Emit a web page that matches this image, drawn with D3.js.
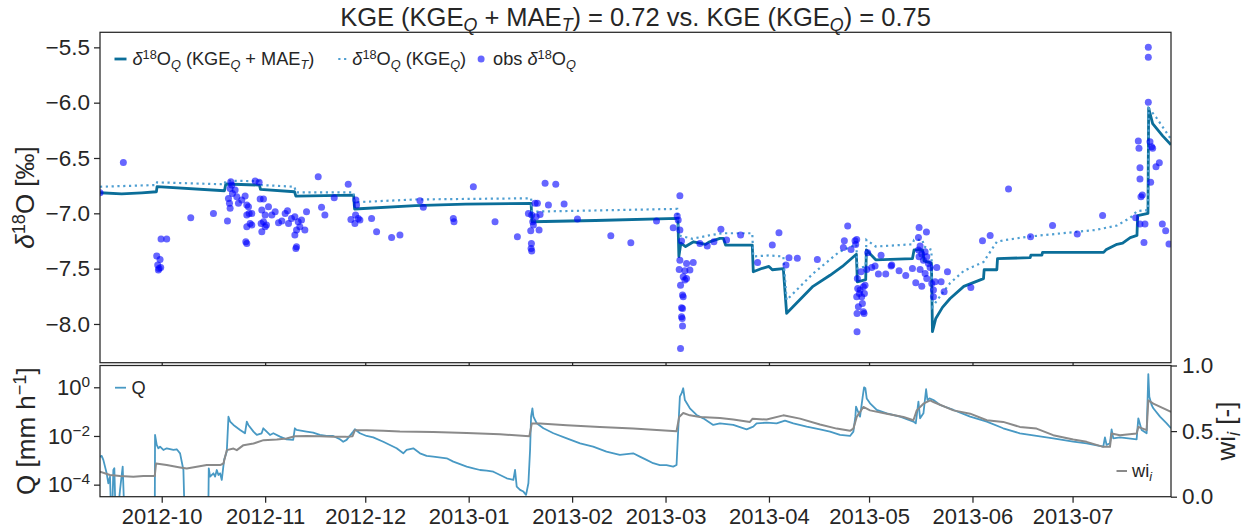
<!DOCTYPE html>
<html><head><meta charset="utf-8">
<script src="https://cdn.jsdelivr.net/npm/d3@7"></script>
<style>
body{margin:0;background:#fff}
text{font-family:"Liberation Sans",Arial,Helvetica,sans-serif;fill:#262626}
</style>
</head><body>
<svg id="chart" width="1248" height="531"></svg>
<script>
// ---------------- DATA ----------------
// x values are days since 2012-09-01 00:00 UTC
const baseDate = "2012-09-01";
const xLimitsDays = [11.5, 332.5];
const d18Ticks = [-8.0, -7.5, -7.0, -6.5, -6.0, -5.5];
const d18Limits = [-8.35, -5.364];
const qTicks = [1e-4, 1e-2, 1];
const qLimits = [3.2e-5, 7.85];
const wiTicks = [0, 0.5, 1.0];
const wiLimits = [0, 1];

const titleParts = [["KGE (KGE","n"],["Q","subi"],[" + MAE","n"],["T","subi"],[") = 0.72 vs. KGE (KGE","n"],["Q","subi"],[") = 0.75","n"]];

// simulated d18O, KGE_Q + MAE_T (solid)
const simCombined = [[11.5,-6.814],[18,-6.825],[24,-6.815],[28.4,-6.805],[28.6,-6.759],[48.8,-6.796],[49.2,-6.735],[59.3,-6.745],[59.6,-6.783],[69.8,-6.805],[70.2,-6.844],[87.5,-6.835],[87.8,-6.961],[106,-6.93],[121,-6.916],[140.7,-6.91],[141,-7.076],[160,-7.065],[184.7,-7.045],[185,-7.39],[185.6,-7.27],[187,-7.30],[189.4,-7.257],[193,-7.28],[194,-7.26],[197.3,-7.226],[198.3,-7.226],[199,-7.287],[207,-7.287],[207.3,-7.528],[210,-7.497],[212,-7.48],[213,-7.51],[216.3,-7.50],[217.3,-7.904],[225.2,-7.66],[230.3,-7.56],[234,-7.48],[238.2,-7.37],[238.5,-7.62],[241,-7.60],[241.2,-7.33],[244,-7.42],[255,-7.41],[255.5,-7.33],[258,-7.33],[258.5,-7.43],[260.7,-7.45],[261,-8.07],[262,-7.95],[264,-7.85],[266.3,-7.77],[270.4,-7.66],[276.3,-7.59],[276.5,-7.51],[280.3,-7.51],[280.5,-7.41],[290.3,-7.40],[290.5,-7.377],[293.8,-7.377],[294,-7.353],[312.3,-7.353],[313,-7.33],[316.3,-7.28],[318,-7.27],[320.3,-7.22],[322.3,-7.20],[322.5,-7.02],[325.6,-7.00],[325.8,-6.05],[327,-6.19],[330,-6.30],[332.5,-6.38]];

// simulated d18O, KGE_Q (dotted)
const simKge = [[11.5,-6.76],[28.4,-6.744],[28.6,-6.72],[48.8,-6.738],[49.2,-6.705],[59.3,-6.71],[59.6,-6.744],[69.8,-6.76],[70.2,-6.81],[87.5,-6.81],[87.8,-6.90],[106,-6.875],[121,-6.87],[140.7,-6.864],[141,-6.985],[184.5,-6.96],[185,-7.20],[189,-7.23],[194,-7.20],[198,-7.18],[207,-7.18],[207.3,-7.39],[212,-7.38],[216.3,-7.39],[217.3,-7.784],[225,-7.55],[233,-7.35],[238.2,-7.28],[238.5,-7.50],[241,-7.48],[241.2,-7.24],[244,-7.30],[255,-7.28],[255.5,-7.24],[258,-7.24],[258.5,-7.30],[260.7,-7.33],[261,-7.845],[264,-7.72],[266.3,-7.63],[270.4,-7.52],[276.3,-7.44],[280.3,-7.257],[283,-7.24],[290,-7.21],[300,-7.18],[310,-7.15],[316.3,-7.11],[320.3,-7.04],[322.3,-6.98],[325.6,-6.97],[325.8,-6.05],[328,-6.13],[332.5,-6.33]];

// observed d18O
const obs = [[11.5,-6.814],[18.5,-6.540],[28.5,-7.386],[29.5,-7.417],[28.8,-7.468],[29.2,-7.498],[29.7,-7.489],[29.0,-7.513],[29.8,-7.233],[31.5,-7.233],[38.7,-7.040],[45.5,-7.001],[49.7,-7.070],
[50.7,-6.714],[51.0,-6.744],[50.5,-6.775],[51.2,-6.820],[50.0,-6.865],[50.3,-6.910],[50.5,-6.955],[52.0,-6.790],[52.5,-6.850],[53.0,-6.910],[54.0,-6.880],[55.0,-6.844],[55.5,-6.925],[56.0,-6.940],[56.2,-7.001],[55.5,-7.016],[57.0,-7.001],[56.5,-7.091],[55.5,-7.121],[55.2,-7.257],[55.5,-7.272],[57.0,-7.106],[58.0,-6.708],[59.2,-6.720],[59.5,-6.871],[60.5,-6.871],[60.0,-6.970],[61.0,-7.016],[60.5,-7.076],[61.0,-7.121],[60.0,-7.166],[61.4,-7.106],[62.0,-6.940],[64.0,-6.986],[63.0,-7.016],[59.8,-7.091],
[65.0,-7.085],[66.0,-7.070],[67.0,-7.001],[67.7,-6.976],[68.0,-7.091],[68.9,-7.046],[69.9,-7.031],[70.9,-7.076],[70.4,-7.151],[71.4,-7.121],[71.9,-7.061],[73.4,-6.986],[72.9,-7.151],[69.9,-7.196],[70.4,-7.302],[70.2,-7.317],
[76.9,-6.669],[77.9,-6.946],[78.9,-7.016],[81.7,-6.859],[85.9,-6.738],[88.2,-6.880],[88.4,-6.925],[88.1,-7.016],[88.9,-7.046],[86.7,-7.055],[87.9,-7.091],[89.4,-7.061],[92.9,-7.046],[94.4,-7.166],[98.9,-7.218],[101.4,-7.196],[107.4,-6.886],[108.4,-6.946],[117.4,-7.046],[117.6,-7.076],
[123.4,-6.760],[129.9,-7.076],[136.6,-7.212],[139.9,-7.001],[140.9,-7.016],[141.2,-7.076],[141.9,-6.910],[142.6,-6.910],[142.2,-7.031],[141.4,-7.106],[140.6,-7.157],[143.1,-7.151],[143.4,-7.010],[140.8,-7.272],[140.7,-7.317],[140.9,-7.341],[144.9,-6.729],[148.1,-6.738],[145.9,-6.925],[150.6,-6.916],[154.6,-7.052],[164.6,-7.203],[170.6,-7.266],[178.3,-7.070],
[185.3,-6.841],[184.5,-7.025],[183.3,-7.130],[185.3,-7.151],[184.8,-7.061],[185.8,-7.251],[185.3,-7.423],[187.3,-7.453],[189.3,-7.444],[185.1,-7.507],[188.3,-7.513],[186.8,-7.519],[186.3,-7.573],[187.3,-7.588],[186.8,-7.603],[185.5,-7.649],[186.1,-7.739],[186.3,-7.754],[185.8,-7.854],[186.1,-7.860],[185.8,-7.935],[186.0,-7.950],[186.1,-8.019],[185.5,-8.221],
[191.3,-7.272],[193.5,-7.296],[195.5,-7.257],[197.6,-7.145],[199.3,-7.242],[203.5,-7.196],[208.6,-7.444],[213.0,-7.287],[215.0,-7.175],[217.1,-7.468],[218.0,-7.401],[220.5,-7.407],[226.5,-7.417],
[235.6,-7.115],[234.6,-7.248],[234.3,-7.308],[236.6,-7.326],[237.8,-7.248],[238.3,-7.236],[238.0,-7.281],[239.6,-7.528],[238.5,-7.588],[238.6,-7.679],[239.3,-7.694],[240.3,-7.664],[240.8,-7.649],[238.3,-7.754],[239.8,-7.754],[240.0,-7.814],[238.8,-7.845],[240.3,-7.890],[238.4,-7.905],[240.5,-7.905],[238.4,-8.071],[239.1,-7.724],[240.6,-7.724],
[241.6,-7.356],[242.8,-7.489],[241.3,-7.507],[243.8,-7.477],[244.8,-7.549],[245.6,-7.380],[247.0,-7.549],[248.6,-7.477],[248.8,-7.468],[251.0,-7.519],[253.0,-7.561],[255.0,-7.498],
[257.0,-7.127],[259.2,-7.169],[256.8,-7.218],[257.3,-7.296],[256.8,-7.332],[257.8,-7.368],[258.8,-7.347],[257.0,-7.392],[259.3,-7.392],[258.3,-7.423],[259.8,-7.453],[260.3,-7.489],[257.3,-7.507],[258.8,-7.543],[256.0,-7.628],[257.8,-7.658],[259.3,-7.588],[260.8,-7.634],[261.8,-7.619],[261.3,-7.694],[262.3,-7.489],[261.3,-7.754],[263.6,-7.619],[264.5,-7.709],[265.5,-7.528],
[272.5,-7.670],[276.0,-7.248],[278.3,-7.200],[283.8,-6.781],[290.4,-7.212],[297.0,-7.109],[304.4,-7.187],[312.0,-7.019],
[325.7,-5.500],[325.7,-5.590],[325.7,-5.997],[322.7,-6.347],[322.9,-6.413],[326.2,-6.353],[326.7,-6.398],[327.0,-6.413],[323.2,-6.588],[323.2,-6.690],[323.5,-6.850],[323.9,-6.835],[326.4,-6.720],[328.0,-6.579],[329.0,-6.543],[321.9,-7.040],[323.2,-7.097],[324.7,-7.097],[324.4,-7.263],[329.9,-7.097],[330.9,-7.157],[331.9,-7.278]];

// discharge Q [mm/h] (1e-6 = below axis)
const discharge = [[11.5,1.42e-3],[12.0,1.51e-3],[12.5,1.04e-3],[13.5,2.93e-4],[14.0,1.14e-4],[14.5,2.14e-4],[15.0,1e-6],[15.5,4.0e-4],[15.8,4.7e-4],[16.3,1e-6],[17.5,6.1e-5],[18.3,5.5e-4],[19.0,1e-6],[27.9,1e-6],
[28.0,1.10e-2],[28.5,4.28e-3],[29.0,3.12e-3],[29.5,3.65e-3],[30.5,2.66e-3],[31.5,3.12e-3],[33.5,2.66e-3],[34.5,2.84e-3],[35.5,1.94e-3],[36.5,4.0e-4],[37.0,1e-6],[43.9,1e-6],
[44.1,4.7e-4],[44.5,2.14e-4],[45.5,2.93e-4],[46.0,2.14e-4],[46.5,4.0e-4],[47.0,2.5e-4],[47.5,2.93e-4],[48.0,1.56e-4],[48.7,1.04e-3],[49.5,2.28e-3],[50.0,6.2e-2],[50.5,3.9e-2],[51.5,2.83e-2],[53.5,1.77e-2],[54.96,1.29e-2],[55.5,3.9e-2],[55.96,2.83e-2],[57.5,1.51e-2],[58.5,1.10e-2],[59.95,1.29e-2],[60.45,2.07e-2],[61.45,1.51e-2],[62.45,1.10e-2],[63.45,1.29e-2],[65.45,9.4e-3],[67.4,7.3e-3],[69.4,6.9e-3],[69.9,2.07e-2],[70.4,1.77e-2],[73.4,1.51e-2],[75.4,1.37e-2],[77.4,1.10e-2],[79.4,1.0e-2],[81.4,1.0e-2],[83.4,7.3e-3],[84.4,5.8e-3],[85.4,6.9e-3],[87.4,1.51e-2],[87.9,1.88e-2],[89.4,1.29e-2],[91.4,1.0e-2],[93.4,8.8e-3],[96.4,5.8e-3],[98.4,4.28e-3],[100.4,3.12e-3],[102.4,1.94e-3],[103.4,2.66e-3],[105.4,3.12e-3],[107.4,1.94e-3],[109.4,1.51e-3],[111.4,1.42e-3],[115.4,1.21e-3],[117.4,8.8e-4],[121.4,5.5e-4],[123.4,4.7e-4],[125.4,4.0e-4],[127.4,3.8e-4],[129.4,3.4e-4],[131.4,2.5e-4],[133.4,1.83e-4],[135.4,1.56e-4],[135.9,4.0e-4],[136.4,8.3e-5],[137.4,6.1e-5],[138.4,5.2e-5],[139.2,3.8e-5],[139.9,1.14e-4],[140.4,2.66e-3],[140.7,6.2e-2],[141.1,0.137],[141.4,6.2e-2],[142.4,3.3e-2],[144.4,2.07e-2],[147.4,1.29e-2],[151.4,8.0e-3],[155.4,5.0e-3],[159.3,3.65e-3],[163.3,2.28e-3],[167.3,1.66e-3],[171.3,1.94e-3],[173.3,1.42e-3],[175.3,1.04e-3],[177.3,7.6e-4],[179.3,6.4e-4],[181.3,6.4e-4],[183.3,5.5e-4],[184.3,6.4e-4],[184.8,1.77e-2],[185.3,0.41],[185.8,0.56],[186.3,0.91],[186.8,0.30],[188.3,0.137],[190.3,7.3e-2],[192.3,5.3e-2],[195.3,2.83e-2],[197.3,3.3e-2],[201.3,2.83e-2],[205.3,1.88e-2],[207.3,2.41e-2],[208.3,3.3e-2],[211.3,3.5e-2],[214.3,3.3e-2],[216.8,4.3e-2],[219.3,3.3e-2],[223.3,2.41e-2],[227.3,1.88e-2],[230.3,1.51e-2],[233.3,1.10e-2],[236.3,1.0e-2],[237.3,1.51e-2],[237.9,6.2e-2],[238.1,0.16],[238.5,0.117],[239.3,6.2e-2],[240.1,0.41],[240.5,1.0],[240.9,0.91],[241.3,0.35],[242.3,0.22],[244.3,0.117],[247.3,8.5e-2],[251.3,6.2e-2],[255.3,3.9e-2],[256.0,3.3e-2],[256.8,0.257],[257.3,5.3e-2],[258.3,8.5e-2],[259.1,0.83],[259.5,0.30],[260.1,0.35],[261.3,0.30],[263.3,0.187],[267.3,0.117],[272.3,6.2e-2],[277.3,3.9e-2],[282.2,2.07e-2],[287.2,1.29e-2],[292.2,1.0e-2],[297.2,8.0e-3],[303.2,5.8e-3],[307.2,5.0e-3],[312.2,3.65e-3],[312.7,8.8e-3],[313.2,4.28e-3],[314.2,5.0e-3],[314.7,1.88e-2],[315.2,8.0e-3],[317.2,8.8e-3],[322.2,7.3e-3],[322.7,5.3e-2],[323.7,1.77e-2],[325.2,1.29e-2],[325.7,3.5],[326.0,0.41],[326.7,0.187],[327.2,0.137],[329.2,6.2e-2],[331.2,3.3e-2],[332.5,2.07e-2]];

// wi_i [-]
const wi = [[11.5,0.190],[14.5,0.165],[17.5,0.157],[21.5,0.152],[24.5,0.157],[27.9,0.157],[28.3,0.253],[31.5,0.241],[35.5,0.223],[37.5,0.215],[40.5,0.228],[43.5,0.241],[47.5,0.241],[48.5,0.253],[49.5,0.355],[51.5,0.367],[52.5,0.355],[54.5,0.393],[57.5,0.405],[60.5,0.431],[64.5,0.436],[67.4,0.443],[69.9,0.461],[73.4,0.463],[77.4,0.461],[81.4,0.456],[85.4,0.456],[87.2,0.461],[87.9,0.507],[91.4,0.507],[96.4,0.502],[101.4,0.497],[111.4,0.494],[121.4,0.486],[131.4,0.476],[140.2,0.461],[140.9,0.557],[143.4,0.557],[151.4,0.545],[161.3,0.532],[171.3,0.519],[184.3,0.499],[185.1,0.608],[186.3,0.638],[188.3,0.620],[191.3,0.608],[197.3,0.600],[201.3,0.588],[206.3,0.570],[207.1,0.595],[211.3,0.588],[216.3,0.620],[221.3,0.595],[227.3,0.550],[232.3,0.519],[236.3,0.502],[237.3,0.519],[238.3,0.608],[240.3,0.684],[242.3,0.658],[247.3,0.633],[252.3,0.608],[255.3,0.583],[256.3,0.658],[258.3,0.709],[260.3,0.734],[261.3,0.722],[267.3,0.658],[272.3,0.633],[277.3,0.583],[282.2,0.570],[287.2,0.532],[292.2,0.519],[297.2,0.469],[303.2,0.436],[307.2,0.418],[312.2,0.380],[314.2,0.380],[314.7,0.481],[317.2,0.469],[322.2,0.481],[322.7,0.532],[325.2,0.507],[325.7,0.734],[327.2,0.709],[332.5,0.646]];

// ---------------- DRAW ----------------
const svg = d3.select("#chart");
const L = 100, R = 1171, T1 = 32.3, B1 = 362.7, T2 = 365.5, B2 = 496.7;
const INK = "#262626";
const base = Date.parse(baseDate + "T00:00:00Z");
const toDate = d => new Date(base + d * 864e5);

const x = d3.scaleUtc().domain(xLimitsDays.map(toDate)).range([L, R]);
const y1 = d3.scaleLinear().domain(d18Limits).range([B1, T1]);
const yq = d3.scaleLog().domain(qLimits).range([B2, T2]);
const yw = d3.scaleLinear().domain(wiLimits).range([B2, T2]);

function rich(sel, segs, fs) {
  let shift = 0;
  segs.forEach(([t, k]) => {
    let target = 0, size = fs, it = false;
    if (k === "sub" || k === "subi") { target = 0.2 * fs; size = 0.7 * fs; }
    if (k === "sup") { target = -0.36 * fs; size = 0.7 * fs; }
    if (k === "subi" || k === "i") it = true;
    const ts = sel.append("tspan").text(t).style("font-size", size + "px");
    if (it) ts.style("font-style", "italic");
    if (target - shift !== 0) ts.attr("dy", (target - shift).toFixed(2));
    shift = target;
  });
}

const defs = svg.append("defs");
defs.append("clipPath").attr("id", "clip1").append("rect").attr("x", L).attr("y", T1).attr("width", R - L).attr("height", B1 - T1);
defs.append("clipPath").attr("id", "clip2").append("rect").attr("x", L).attr("y", T2).attr("width", R - L).attr("height", B2 - T2);

function styleAxis(g, fs) {
  g.attr("font-family", null).attr("font-size", null);
  g.select(".domain").remove();
  g.selectAll(".tick line").attr("stroke", INK).attr("stroke-width", 1.25);
  g.selectAll(".tick text").style("font-size", fs + "px").attr("fill", INK);
}

// ---- top panel ----
const g1 = svg.append("g");
const lineTop = d3.line().x(d => x(toDate(d[0]))).y(d => y1(d[1]));
const p1 = g1.append("g").attr("clip-path", "url(#clip1)");
p1.append("path").datum(simCombined).attr("d", lineTop).attr("fill", "none")
  .attr("stroke", "#0b6e99").attr("stroke-width", 2.8).attr("stroke-linejoin", "round");
p1.append("path").datum(simKge).attr("d", lineTop).attr("fill", "none")
  .attr("stroke", "#4f9fd2").attr("stroke-width", 2.2).attr("stroke-dasharray", "2.2,3.6");
p1.selectAll("circle").data(obs).join("circle")
  .attr("cx", d => x(toDate(d[0]))).attr("cy", d => y1(d[1])).attr("r", 3.5)
  .attr("fill", "#0000ff").attr("fill-opacity", 0.6);

g1.append("g").attr("transform", `translate(${L},0)`)
  .call(d3.axisLeft(y1).tickValues(d18Ticks).tickSize(6).tickPadding(4).tickFormat(d3.format(".1f")))
  .call(g => styleAxis(g, 22.5));
g1.append("g").attr("transform", `translate(0,${B1})`)
  .call(d3.axisBottom(x).ticks(d3.utcMonth.every(1)).tickSize(3).tickFormat(""))
  .call(g => styleAxis(g, 22));
g1.append("rect").attr("x", L).attr("y", T1).attr("width", R - L).attr("height", B1 - T1)
  .attr("fill", "none").attr("stroke", INK).attr("stroke-width", 1.25);

// ---- bottom panel ----
const g2 = svg.append("g");
const p2 = g2.append("g").attr("clip-path", "url(#clip2)");
p2.append("path").datum(discharge)
  .attr("d", d3.line().x(d => x(toDate(d[0]))).y(d => yq(d[1])))
  .attr("fill", "none").attr("stroke", "#4899c4").attr("stroke-width", 1.8).attr("stroke-linejoin", "round");
p2.append("path").datum(wi)
  .attr("d", d3.line().x(d => x(toDate(d[0]))).y(d => yw(d[1])))
  .attr("fill", "none").attr("stroke", "#8a8a8a").attr("stroke-width", 2).attr("stroke-linejoin", "round");

const qAxis = g2.append("g").attr("transform", `translate(${L},0)`)
  .call(d3.axisLeft(yq).tickValues(qTicks).tickSize(6).tickPadding(4).tickFormat(() => ""))
  .call(g => styleAxis(g, 22));
qAxis.selectAll(".tick text").each(function(d) {
  const e = Math.round(Math.log10(d));
  rich(d3.select(this), [["10", "n"], [(e < 0 ? "\u2212" : "") + Math.abs(e), "sup"]], 22);
});
g2.append("g").attr("transform", `translate(${R},0)`)
  .call(d3.axisRight(yw).tickValues(wiTicks).tickSize(6).tickPadding(5).tickFormat(d3.format(".1f")))
  .call(g => styleAxis(g, 22.5));
g2.append("g").attr("transform", `translate(0,${B2})`)
  .call(d3.axisBottom(x).ticks(d3.utcMonth.every(1)).tickSize(6).tickPadding(6).tickFormat(d3.utcFormat("%Y-%m")))
  .call(g => styleAxis(g, 22));
g2.append("rect").attr("x", L).attr("y", T2).attr("width", R - L).attr("height", B2 - T2)
  .attr("fill", "none").attr("stroke", INK).attr("stroke-width", 1.25);

// ---- titles and labels ----
const title = svg.append("text").attr("x", (L + R) / 2).attr("y", 26).attr("text-anchor", "middle");
rich(title, titleParts, 25.5);

const yl1 = svg.append("text").attr("transform", `translate(34,${(T1 + B1) / 2}) rotate(-90)`).attr("text-anchor", "middle");
rich(yl1, [["\u03b4", "i"], ["18", "sup"], ["O [\u2030]", "n"]], 26);
const yl2 = svg.append("text").attr("transform", `translate(35,${(T2 + B2) / 2}) rotate(-90)`).attr("text-anchor", "middle");
rich(yl2, [["Q [mm h", "n"], ["\u22121", "sup"], ["]", "n"]], 26);
const yl3 = svg.append("text").attr("transform", `translate(1235,${(T2 + B2) / 2}) rotate(-90)`).attr("text-anchor", "middle");
rich(yl3, [["wi", "n"], ["i", "subi"], [" [-]", "n"]], 26);

// ---- legends ----
const LF = 18.2;
const legY = 59;
let cx = 114.5;
const leg = svg.append("g");
function legText(xp, yc, segs) {
  const t = leg.append("text").attr("x", xp).attr("y", yc + 0.35 * LF);
  rich(t, segs, LF);
  return t.node().getBBox().width;
}
leg.append("line").attr("x1", cx).attr("x2", cx + 12).attr("y1", legY).attr("y2", legY)
  .attr("stroke", "#0b6e99").attr("stroke-width", 2.8);
cx += 18;
cx += legText(cx, legY, [["\u03b4", "i"], ["18", "sup"], ["O", "n"], ["Q", "subi"], [" (KGE", "n"], ["Q", "subi"], [" + MAE", "n"], ["T", "subi"], [")", "n"]]);
cx += 24;
leg.append("line").attr("x1", cx).attr("x2", cx + 11).attr("y1", legY).attr("y2", legY)
  .attr("stroke", "#4f9fd2").attr("stroke-width", 2.2).attr("stroke-dasharray", "2.2,3.6");
cx += 14;
cx += legText(cx, legY, [["\u03b4", "i"], ["18", "sup"], ["O", "n"], ["Q", "subi"], [" (KGE", "n"], ["Q", "subi"], [")", "n"]]);
cx += 15;
leg.append("circle").attr("cx", cx).attr("cy", legY).attr("r", 3.5).attr("fill", "#0000ff").attr("fill-opacity", 0.6);
cx += 12;
legText(cx, legY, [["obs ", "n"], ["\u03b4", "i"], ["18", "sup"], ["O", "n"], ["Q", "subi"]]);

leg.append("line").attr("x1", 115).attr("x2", 126).attr("y1", 387.7).attr("y2", 387.7)
  .attr("stroke", "#4899c4").attr("stroke-width", 1.8);
legText(131.5, 387.7, [["Q", "n"]]);
leg.append("line").attr("x1", 1116.5).attr("x2", 1127).attr("y1", 471).attr("y2", 471)
  .attr("stroke", "#8a8a8a").attr("stroke-width", 2);
legText(1132, 471, [["wi", "n"], ["i", "subi"]]);
</script>
</body></html>
